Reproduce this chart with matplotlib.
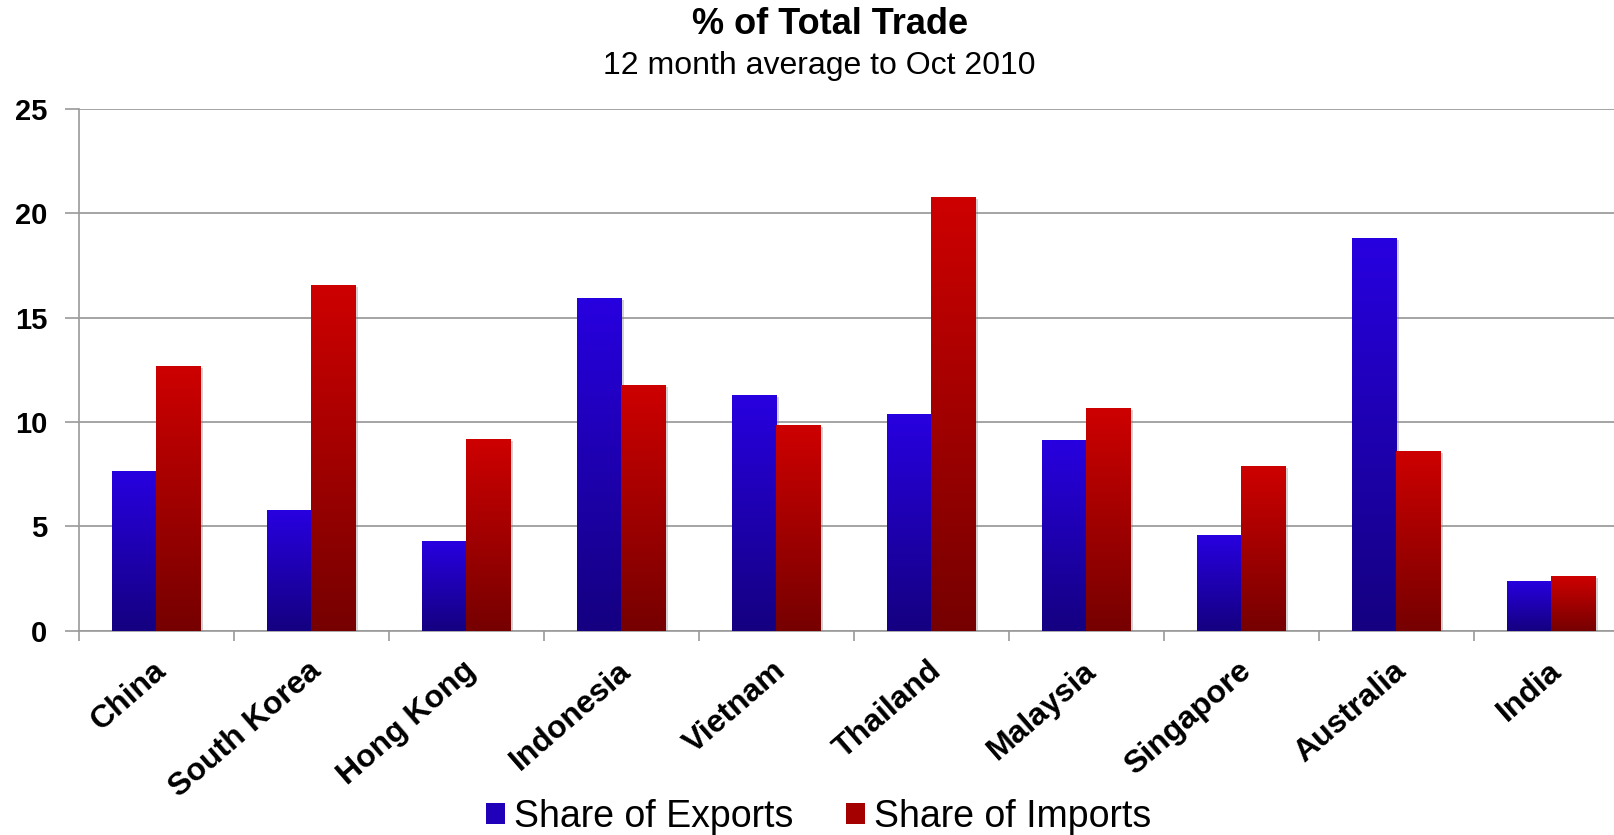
import numpy as np
import matplotlib
matplotlib.use("Agg")
import matplotlib.pyplot as plt
from matplotlib.colors import LinearSegmentedColormap
from matplotlib.patches import Patch
from matplotlib.transforms import ScaledTranslation
import matplotlib.patheffects as pe

plt.rcParams['font.family'] = ['Liberation Sans', 'DejaVu Sans']

countries = ["China", "South Korea", "Hong Kong", "Indonesia", "Vietnam",
             "Thailand", "Malaysia", "Singapore", "Australia", "India"]
exports = [7.65, 5.78, 4.28, 15.96, 11.28, 10.37, 9.14, 4.58, 18.80, 2.40]
imports = [12.70, 16.55, 9.17, 11.79, 9.86, 20.77, 10.69, 7.89, 8.63, 2.62]
y_ticks = [0, 5, 10, 15, 20, 25]

blue_map = LinearSegmentedColormap.from_list("blues", ["#140080", "#2800E0"])
red_map = LinearSegmentedColormap.from_list("reds", ["#760000", "#CE0000"])

fig = plt.figure(figsize=(16.15, 8.35), dpi=100)
ax = fig.add_axes([79 / 1615, 1 - 630.7 / 835, 1550 / 1615, (630.7 - 109) / 835])

x = np.arange(len(countries))
width = 0.285
grad = np.linspace(0, 1, 256).reshape(-1, 1)


def gradient_bars(xpos, values, cmap):
    bars = ax.bar(xpos, values, width, color="none", edgecolor="none", zorder=3,
                  path_effects=[pe.SimplePatchShadow(offset=(1.5, -1.5), shadow_rgbFace="#808080", alpha=0.35),
                                pe.Normal()])
    for bar in bars:
        x0, y0 = bar.get_x(), bar.get_y()
        img = ax.imshow(grad, cmap=cmap, origin="lower", aspect="auto", zorder=4,
                        extent=[x0, x0 + bar.get_width(), y0, y0 + bar.get_height()])
        img.set_clip_path(bar)
    return bars


gradient_bars(x - width / 2, exports, blue_map)
gradient_bars(x + width / 2, imports, red_map)

ax.set_xlim(-0.5, len(countries) - 0.5)
ax.set_ylim(0, 25)

# y axis
ax.set_yticks(y_ticks)
ax.set_yticklabels([str(v) for v in y_ticks], fontsize=21, fontweight="bold")
ax.tick_params(axis="y", length=10, width=1.2, color="#9a9a9a", pad=13)
ax.grid(axis="y", color="#959595", linewidth=1.2, zorder=0)
ax.set_axisbelow(True)

# category boundaries as ticks, names on the centres
ax.set_xticks(np.arange(len(countries) + 1) - 0.5)
ax.set_xticklabels([])
ax.tick_params(axis="x", which="major", length=7, width=1.2, color="#9a9a9a")
ax.set_xticks(x, minor=True)
ax.set_xticklabels(countries, minor=True, rotation=41, ha="right", va="top",
                   rotation_mode="anchor", fontsize=23, fontweight="bold")
ax.tick_params(axis="x", which="minor", length=0, pad=18)
for lbl in ax.get_xticklabels(minor=True):
    lbl.set_transform(lbl.get_transform() + ScaledTranslation(-0.04, 0, fig.dpi_scale_trans))

for side in ["top", "right"]:
    ax.spines[side].set_visible(False)
for side in ["left", "bottom"]:
    ax.spines[side].set_color("#9a9a9a")
    ax.spines[side].set_linewidth(1.2)

fig.text(0.514, 0.959, "% of Total Trade", ha="center", va="baseline",
         fontsize=26, fontweight="bold")
fig.text(0.507, 0.911, "12 month average to Oct 2010", ha="center", va="baseline",
         fontsize=23)

handles = [Patch(facecolor="#2000B8", label="Share of Exports"),
           Patch(facecolor="#A40000", label="Share of Imports")]
fig.legend(handles=handles, loc="center", bbox_to_anchor=(0.507, 0.022), ncol=2,
           frameon=False, fontsize=27, handlelength=0.5, handleheight=0.5,
           handletextpad=0.25, columnspacing=1.4, borderpad=0)

fig.savefig("out.png", dpi=100, facecolor="white")
